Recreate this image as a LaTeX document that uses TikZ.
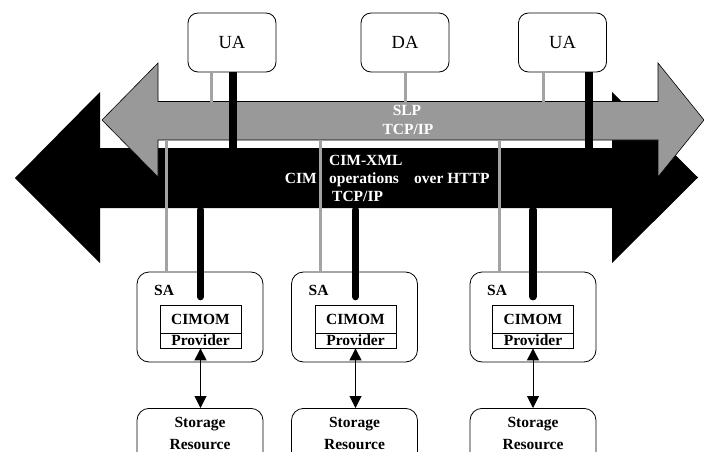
\documentclass[tikz,border=0pt]{standalone}
\usepackage{fontspec}
\setmainfont{Liberation Serif}
\usetikzlibrary{arrows.meta}
\definecolor{arrowgray}{RGB}{153,153,153}
\definecolor{linegray}{RGB}{163,163,163}
\begin{document}
\begin{tikzpicture}[x=1pt,y=-1pt,
  agentbox/.style={draw, line width=0.8pt, rounded corners=10pt, fill=white,
    minimum width=88pt, minimum height=59pt, inner sep=0pt,
    font=\fontsize{18.5}{22}\selectfont, text height=12pt, text depth=0pt},
  sabox/.style={draw, line width=0.8pt, rounded corners=12pt, fill=white,
    minimum width=126pt, minimum height=90pt, inner sep=0pt},
  stbox/.style={draw, line width=0.8pt, rounded corners=12pt, fill=white,
    minimum width=126pt, minimum height=70pt, inner sep=0pt},
  cimbox/.style={draw, line width=0.8pt, fill=white, minimum width=81pt,
    minimum height=28pt, inner sep=0pt, font=\fontsize{15.5}{18}\selectfont\bfseries,
    text height=10.5pt, text depth=0pt},
  provbox/.style={draw, line width=0.8pt, fill=white, minimum width=81pt,
    minimum height=15pt, inner sep=0pt, font=\fontsize{15.5}{18}\selectfont\bfseries,
    text height=10.5pt, text depth=0pt},
  btext/.style={inner sep=0pt, font=\fontsize{15.5}{18}\selectfont\bfseries},
  wtext/.style={btext, text=white},
  gline/.style={draw=linegray, line width=3pt},
  bline/.style={draw=black, line width=7.5pt},
  dbl/.style={line width=1pt, {Triangle[width=12pt,length=12pt]}-{Triangle[width=12pt,length=12pt]}}
]
\useasboundingbox (0,0) rectangle (704,452);
\clip (0,0) rectangle (704,452);

% black double arrow (CIM-XML)
\fill[black] (15,178) -- (100,92) -- (100,148) -- (612,148) -- (612,92) -- (698,177.5)
  -- (612,263) -- (612,208) -- (100,208) -- (100,263) -- cycle;
% grey double arrow (SLP)
\filldraw[fill=arrowgray, draw=black, line width=0.6pt] (102,120) -- (158,63) -- (158,101.5)
  -- (658,101.5) -- (658,63) -- (704,120) -- (658,177) -- (658,140) -- (158,140)
  -- (158,177) -- cycle;

% top agents
\node[agentbox] (ua1) at (232,42.5) {UA};
\node[agentbox] (da) at (405,42.5) {DA};
\node[agentbox] (ua2) at (562.5,42.5) {UA};

\coordinate (gt1) at (211,101.5);
\coordinate (bt1) at (233,150);
\coordinate (gt2) at (405,101.5);
\coordinate (gt3) at (543,101.5);
\coordinate (bt3) at (589,150);
\draw[gline] (ua1.south -| gt1) -- (gt1);
\draw[bline] (ua1.south -| bt1) -- (bt1);
\draw[gline] (da.south -| gt2) -- (gt2);
\draw[gline] (ua2.south -| gt3) -- (gt3);
\draw[bline] (ua2.south -| bt3) -- (bt3);

% arrow labels
\node[wtext, anchor=base] (slp) at (407,115) {SLP};
\node[wtext, anchor=base] (tcpa) at (408,134) {TCP/IP};
\node[wtext, anchor=base east] (cim) at (317,183) {CIM};
\node[wtext, anchor=base west] (cimxml) at (329,165) {CIM-XML};
\node[wtext, anchor=base west] (ops) at (329,183) {operations};
\node[wtext, anchor=base west] (http) at (414,183) {over HTTP};
\node[wtext, anchor=base west] (tcpb) at (332,201.5) {TCP/IP};

% service agents
\foreach \i/\cx/\cc in {1/200/200.5, 2/354.5/355.5, 3/533/533}{
  \node[sabox] (sa\i) at (\cx,317) {};
  \coordinate (gb\i) at (\cx-34,140);
  \coordinate (bb\i) at (\cc,210);
  \draw[gline] (gb\i) -- (gb\i |- sa\i.north);
  \node[btext, anchor=base west] (salab\i) at (\cx-46,295) {SA};
  \node[cimbox] (cim\i) at (\cc,319) {CIMOM};
  \node[provbox] (prov\i) at (\cc,340.5) {Provider};
  \draw[bline, line cap=round] (bb\i) -- ([yshift=8pt]cim\i.north);
  \node[stbox, anchor=north] (st\i) at (\cx,408) {};
  \node[btext, anchor=base] (stt\i) at (\cx,427) {Storage};
  \node[btext, anchor=base] (str\i) at (\cx,449) {Resource};
  \draw[dbl] (prov\i.south) -- (prov\i.south |- st\i.north);
}
\end{tikzpicture}
\end{document}
